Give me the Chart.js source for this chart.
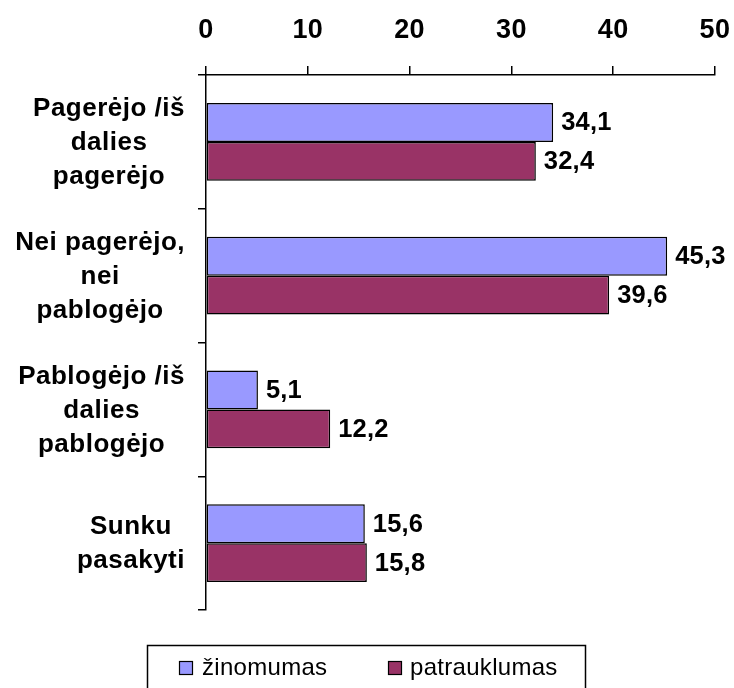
<!DOCTYPE html>
<html>
<head>
<meta charset="utf-8">
<script src="https://cdn.jsdelivr.net/npm/chart.js@4/dist/chart.umd.min.js"></script>
<style>
  html, body { margin: 0; padding: 0; background: #fff; }
  #wrap { width: 734px; height: 688px; }
</style>
</head>
<body>
<div id="wrap"><canvas id="c" width="734" height="688"></canvas></div>
<script>
const categories = [
  ["Pagerėjo /iš", "dalies", "pagerėjo"],
  ["Nei pagerėjo,", "nei", "pablogėjo"],
  ["Pablogėjo /iš", "dalies", "pablogėjo"],
  ["Sunku", "pasakyti"]
];
const seriesNames = ["žinomumas", "patrauklumas"];
const zinomumas = [34.1, 45.3, 5.1, 15.6];
const patrauklumas = [32.4, 39.6, 12.2, 15.8];
const xTicks = [0, 10, 20, 30, 40, 50];
const seriesColors = ["#9999FF", "#993366"];

const FONT = "'Liberation Sans', Arial, sans-serif";
const SPACING = "0.4px";

const spacingPlugin = {
  id: 'spacing',
  beforeInit(chart) { chart.ctx.letterSpacing = SPACING; },
  beforeLayout(chart) { chart.ctx.letterSpacing = SPACING; },
  beforeDraw(chart) { chart.ctx.letterSpacing = SPACING; }
};

// category labels: each block right-aligned near the axis, lines centred within the block
const categoryLabels = {
  id: 'categoryLabels',
  afterDraw(chart) {
    const ctx = chart.ctx;
    const yScale = chart.scales.y;
    ctx.save();
    ctx.letterSpacing = "0.5px";
    ctx.font = "bold 26px " + FONT;
    ctx.fillStyle = "#000";
    ctx.textAlign = "center";
    ctx.textBaseline = "middle";
    const lh = 34;
    const right = yScale.right - 21;
    chart.data.labels.forEach((lines, i) => {
      const w = Math.max(...lines.map(l => ctx.measureText(l).width));
      const cx = right - w / 2;
      const cy = yScale.getPixelForTick(i);
      const y0 = cy - (lines.length - 1) * lh / 2;
      lines.forEach((l, k) => ctx.fillText(l, cx, y0 + k * lh + 1));
    });
    ctx.restore();
  }
};

const valueLabels = {
  id: 'valueLabels',
  afterDatasetsDraw(chart) {
    const ctx = chart.ctx;
    ctx.save();
    ctx.letterSpacing = "0.2px";
    ctx.font = "bold 25.5px " + FONT;
    ctx.fillStyle = "#000";
    ctx.textAlign = "left";
    ctx.textBaseline = "middle";
    chart.data.datasets.forEach((ds, di) => {
      const meta = chart.getDatasetMeta(di);
      meta.data.forEach((bar, i) => {
        const txt = ds.data[i].toFixed(1).replace('.', ',');
        ctx.fillText(txt, bar.x + 8, bar.y + 1);
      });
    });
    ctx.restore();
  }
};

const boxedLegend = {
  id: 'boxedLegend',
  afterDraw(chart) {
    const ctx = chart.ctx;
    ctx.save();
    ctx.letterSpacing = "0.3px";
    ctx.strokeStyle = "#000";
    ctx.lineWidth = 1.5;
    ctx.strokeRect(147.5, 645.5, 438, 60);
    const items = [
      { sx: 179, tx: 202 },
      { sx: 388, tx: 410 }
    ];
    ctx.font = "24px " + FONT;
    ctx.textBaseline = "middle";
    ctx.textAlign = "left";
    chart.data.datasets.forEach((ds, i) => {
      const it = items[i];
      ctx.fillStyle = ds.backgroundColor;
      ctx.fillRect(it.sx, 661, 14, 14);
      ctx.lineWidth = 1.2;
      ctx.strokeRect(it.sx + 0.5, 661.5, 13, 13);
      ctx.fillStyle = "#000";
      ctx.fillText(ds.label, it.tx, 668);
    });
    ctx.restore();
  }
};

new Chart(document.getElementById('c'), {
  type: 'bar',
  data: {
    labels: categories,
    datasets: [
      { label: seriesNames[0], data: zinomumas, backgroundColor: seriesColors[0], borderColor: "#000", borderWidth: 1.5, borderSkipped: false },
      { label: seriesNames[1], data: patrauklumas, backgroundColor: seriesColors[1], borderColor: "#000", borderWidth: 1.5, borderSkipped: false }
    ]
  },
  options: {
    indexAxis: 'y',
    responsive: false,
    animation: false,
    devicePixelRatio: 1,
    layout: { padding: { top: 0, left: 0, right: 19, bottom: 78 } },
    datasets: { bar: { categoryPercentage: 0.582, barPercentage: 1.0 } },
    plugins: { legend: { display: false }, tooltip: { enabled: false } },
    scales: {
      x: {
        position: 'top',
        min: 0, max: 50,
        afterBuildTicks(s) { s.ticks = xTicks.map(v => ({ value: v })); },
        ticks: { color: "#000", padding: 19, font: { family: FONT, size: 27, weight: 'bold' } },
        grid: { drawOnChartArea: false, drawTicks: true, tickLength: 9, color: "#000", lineWidth: 1.5 },
        border: { display: true, color: "#000", width: 1.5 },
        afterFit(s) { s.height = 75; s.paddingLeft = 0; s.paddingRight = 0; }
      },
      y: {
        ticks: { display: false },
        grid: { drawOnChartArea: false, drawTicks: true, tickLength: 8, color: "#000", lineWidth: 1.5, offset: true },
        border: { display: true, color: "#000", width: 1.5 },
        afterFit(s) { s.width = 206; s.paddingTop = 0; s.paddingBottom = 0; }
      }
    }
  },
  plugins: [spacingPlugin, valueLabels, categoryLabels, boxedLegend]
});
</script>
</body>
</html>
